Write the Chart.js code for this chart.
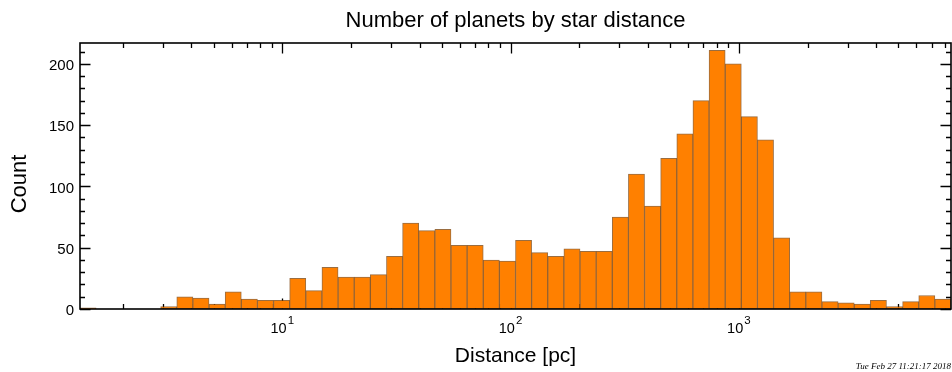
<!DOCTYPE html>
<html>
<head>
<meta charset="utf-8">
<title>Number of planets by star distance</title>
<script src="https://cdn.jsdelivr.net/npm/chart.js@4.4.1/dist/chart.umd.min.js"></script>
<style>
  html, body { margin: 0; padding: 0; background: #fff; }
  #wrap { width: 952px; height: 372px; }
</style>
</head>
<body>
<div id="wrap"><canvas id="distChart" width="952" height="372"></canvas></div>
<script>
// histogram of star distances, bins of equal width in log10(pc)
const distMin = 1.3;    // pc, lower edge of the first bin
const distMax = 8500;   // pc, upper edge of the last bin
const binCounts = [
  1, 0, 0, 0, 0, 2, 10, 9, 4, 14,
  8, 7, 7, 25, 15, 34, 26, 26, 28, 43,
  70, 64, 65, 52, 52, 40, 39, 56, 46, 43,
  49, 47, 47, 75, 110, 84, 123, 143, 170, 211,
  200, 157, 138, 58, 14, 14, 6, 5, 4, 7,
  2, 6, 11, 8
];
const yMax = 217;
const yMajorTicks = [0, 50, 100, 150, 200];
const yMinorStep = 10;
const xDecades = [1, 2, 3];        // labelled as 10^1, 10^2, 10^3
const timeStamp = "Tue Feb 27 11:21:17 2018";

const FONT = '"Liberation Sans", Helvetica, Arial, sans-serif';

// bin centres (geometric) for the bar positions
const logLo = Math.log10(distMin);
const logStep = (Math.log10(distMax) - logLo) / binCounts.length;
const binCentres = binCounts.map((_, i) => Math.pow(10, logLo + (i + 0.5) * logStep));

// ticks drawn inward on all four sides, IDL style
const frameTicks = {
  id: "frameTicks",
  beforeDatasetsDraw(chart) {
    const { ctx, chartArea: a, scales } = chart;
    const xs = scales.x, ys = scales.y;
    const major = 10.5, minor = 5;
    ctx.save();
    ctx.strokeStyle = "#000";
    ctx.lineWidth = 1.3;
    ctx.beginPath();
    // y ticks, left and right
    for (let v = 0; v <= yMax; v += yMinorStep) {
      const y = Math.round(ys.getPixelForValue(v)) + 0.5;
      const len = yMajorTicks.includes(v) ? major : minor;
      ctx.moveTo(a.left, y); ctx.lineTo(a.left + len, y);
      ctx.moveTo(a.right, y); ctx.lineTo(a.right - len, y);
    }
    // x ticks, bottom and top
    for (let d = 0; d <= 3; d++) {
      for (let m = 1; m <= 9; m++) {
        const val = m * Math.pow(10, d);
        if (val < distMin || val > distMax) continue;
        const x = Math.round(xs.getPixelForValue(val)) + 0.5;
        const len = m === 1 ? major : minor;
        ctx.moveTo(x, a.bottom); ctx.lineTo(x, a.bottom - len);
        ctx.moveTo(x, a.top); ctx.lineTo(x, a.top + len);
      }
    }
    ctx.stroke();
    ctx.restore();
  },
  afterDatasetsDraw(chart) {
    const { ctx, chartArea: a, scales } = chart;
    const xs = scales.x, ys = scales.y;
    ctx.save();
    // frame
    ctx.strokeStyle = "#000";
    ctx.lineWidth = 1.6;
    ctx.strokeRect(a.left, a.top, a.right - a.left, a.bottom - a.top);

    ctx.fillStyle = "#000";
    // y tick labels
    ctx.font = "15px " + FONT;
    ctx.textAlign = "right";
    ctx.textBaseline = "middle";
    yMajorTicks.forEach(v => {
      ctx.fillText(String(v), a.left - 6, ys.getPixelForValue(v) + 2);
    });
    // x tick labels, 10 with raised exponent
    ctx.textAlign = "left";
    ctx.textBaseline = "alphabetic";
    xDecades.forEach(p => {
      const x = xs.getPixelForValue(Math.pow(10, p));
      ctx.font = "14.5px " + FONT;
      const wBase = ctx.measureText("10").width;
      ctx.font = "11.5px " + FONT;
      const wExp = ctx.measureText(String(p)).width;
      const x0 = x - (wBase + wExp + 1) / 2;
      ctx.font = "14.5px " + FONT;
      ctx.fillText("10", x0, a.bottom + 24);
      ctx.font = "11.5px " + FONT;
      ctx.fillText(String(p), x0 + wBase + 1, a.bottom + 15);
    });
    // titles
    const cx = (a.left + a.right) / 2;
    ctx.textAlign = "center";
    ctx.font = "22px " + FONT;
    ctx.fillText("Number of planets by star distance", cx, 27);
    ctx.font = "21px " + FONT;
    ctx.fillText("Distance [pc]", cx, 362);
    ctx.save();
    ctx.translate(26, 184);
    ctx.rotate(-Math.PI / 2);
    ctx.font = "22px " + FONT;
    ctx.fillText("Count", 0, 0);
    ctx.restore();
    // plot time stamp
    ctx.font = 'italic 9px "Liberation Serif", "Times New Roman", serif';
    ctx.textAlign = "right";
    ctx.fillText(timeStamp, 951, 369);
    ctx.restore();
  }
};

new Chart(document.getElementById("distChart"), {
  type: "bar",
  data: {
    datasets: [{
      label: "Count",
      data: binCentres.map((x, i) => ({ x: x, y: binCounts[i] })),
      backgroundColor: "#ff8000",
      borderColor: "rgba(120, 60, 0, 0.75)",
      borderWidth: 1,
      borderSkipped: false,
      barPercentage: 1,
      categoryPercentage: 1,
      grouped: false
    }]
  },
  options: {
    responsive: false,
    animation: false,
    devicePixelRatio: 1,
    layout: { padding: { left: 80, right: 1, top: 43, bottom: 63 } },
    scales: {
      x: { type: "logarithmic", min: distMin, max: distMax, offset: false, display: false },
      y: { type: "linear", min: 0, max: yMax, display: false }
    },
    plugins: {
      legend: { display: false },
      tooltip: { enabled: false }
    }
  },
  plugins: [frameTicks]
});
</script>
</body>
</html>
